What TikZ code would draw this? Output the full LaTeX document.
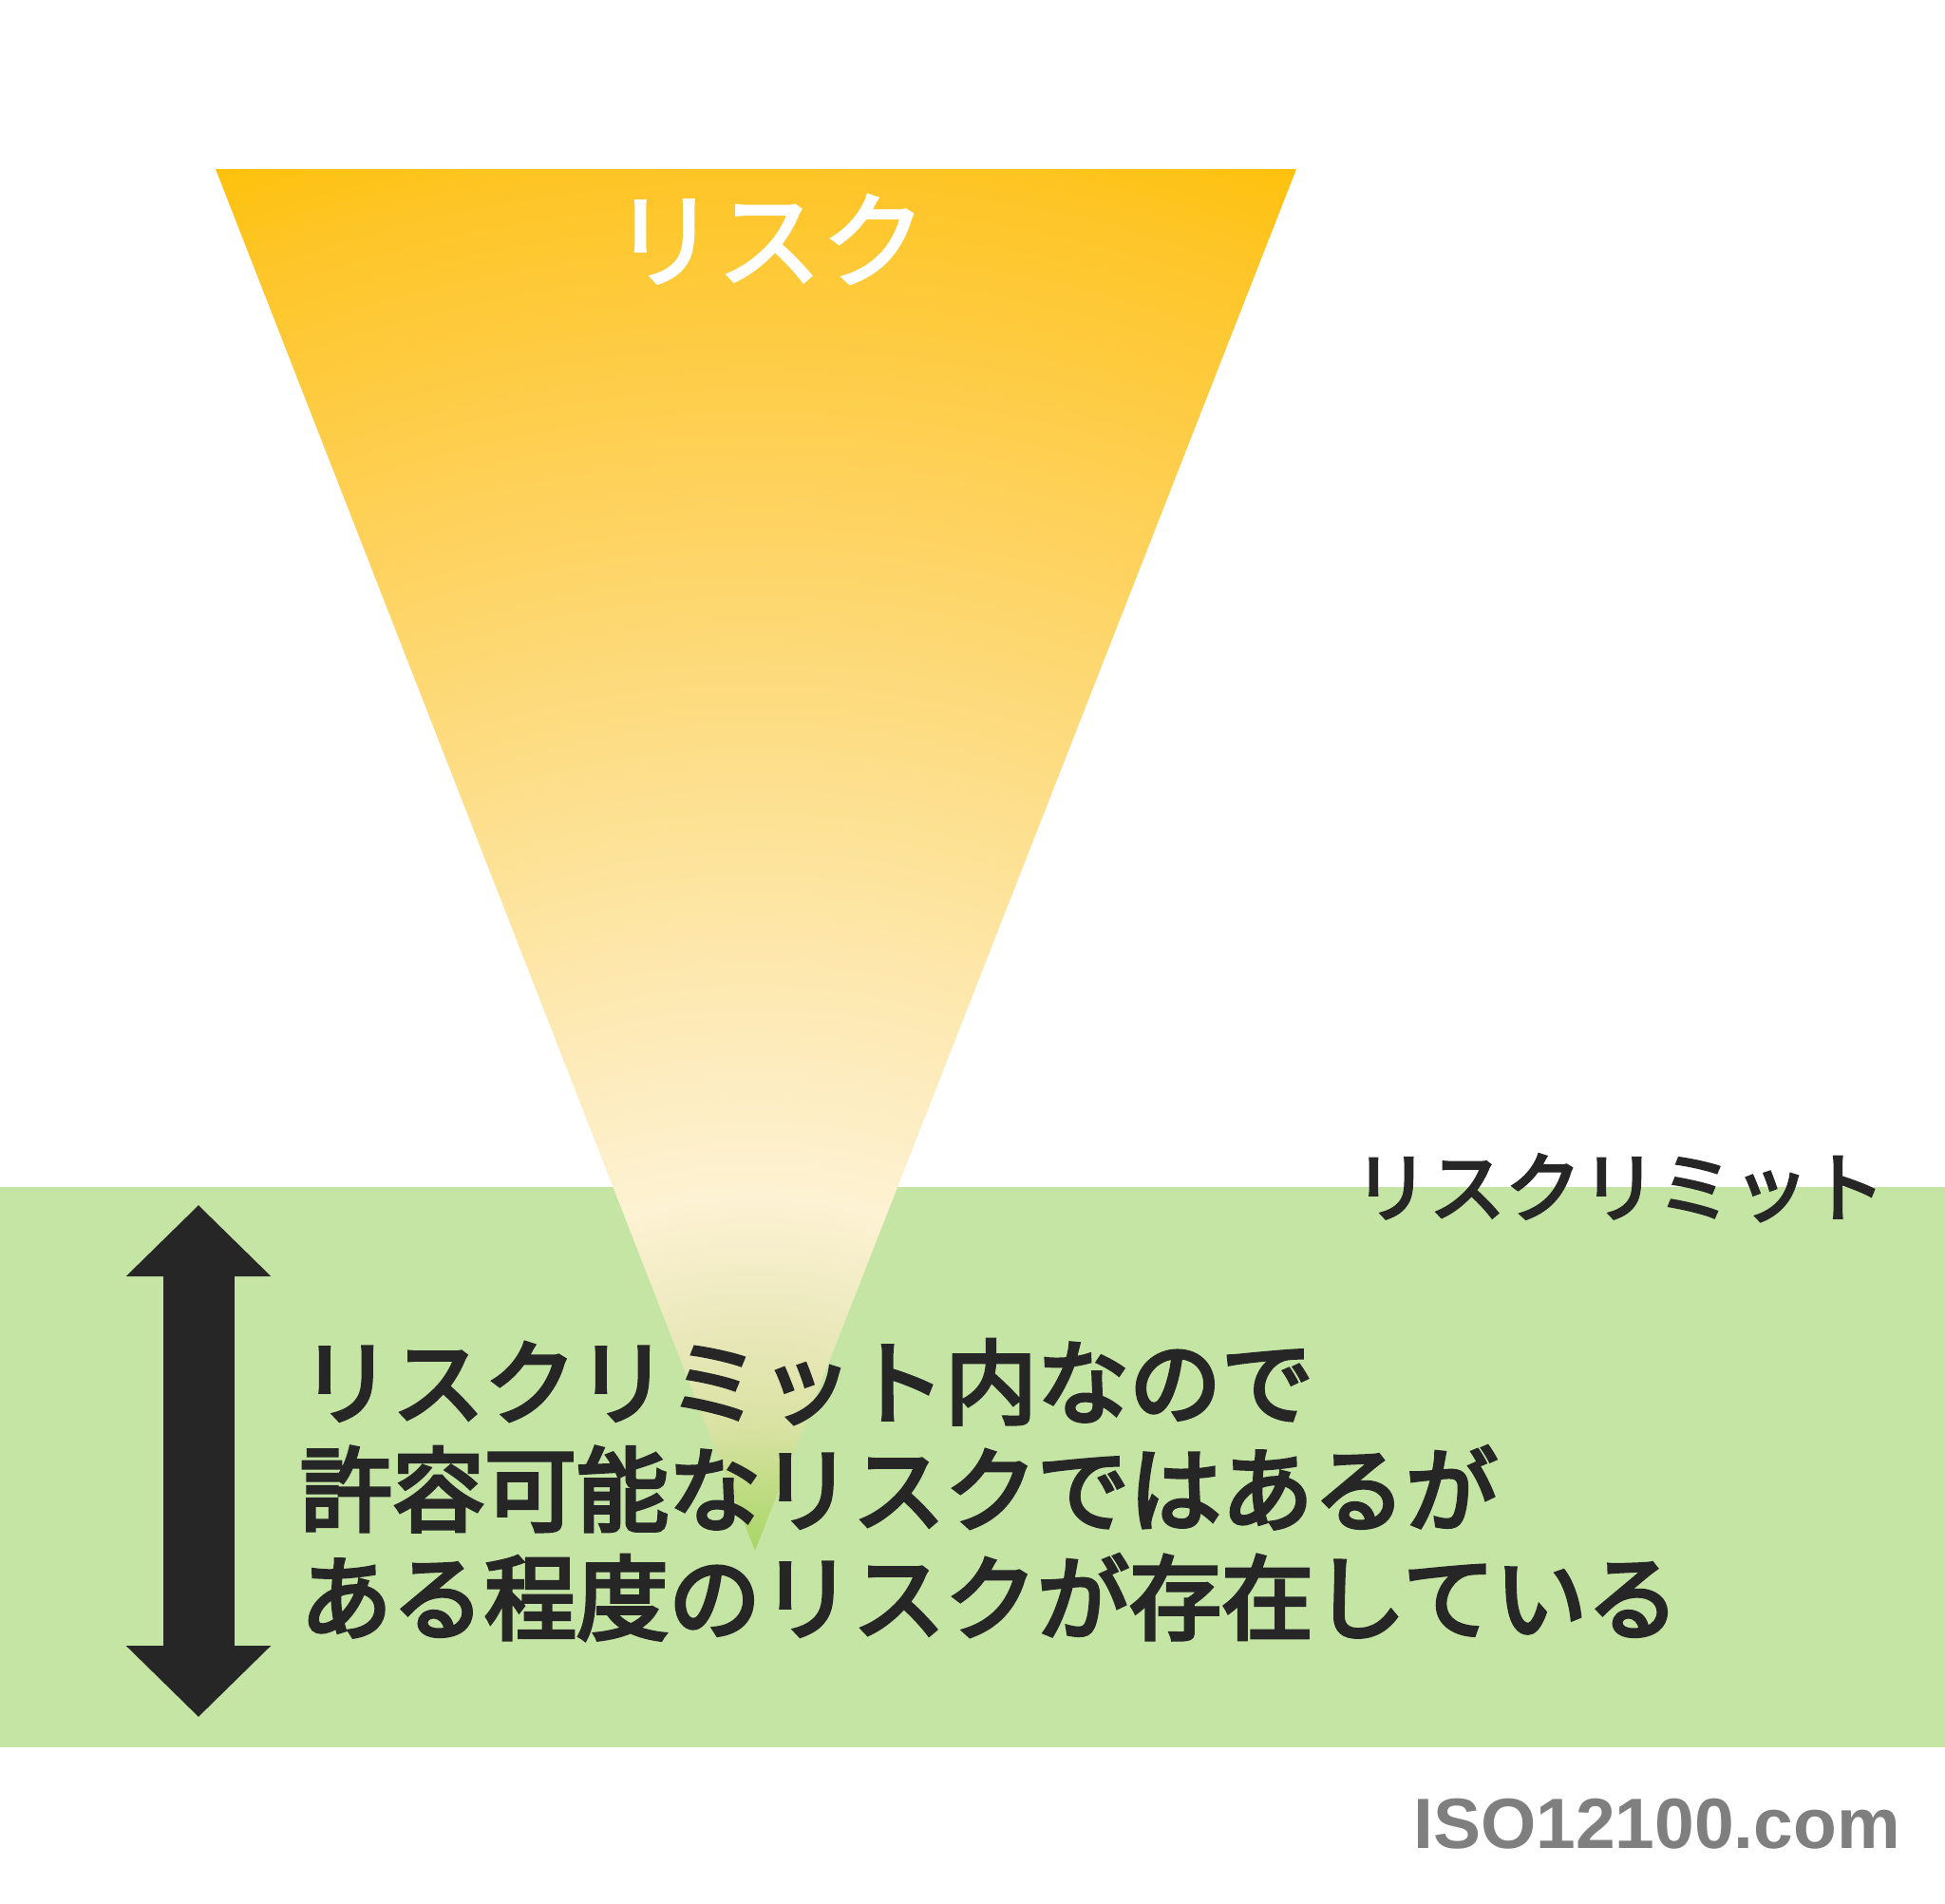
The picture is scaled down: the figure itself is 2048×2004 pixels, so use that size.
\documentclass[tikz,border=0pt]{standalone}
\usepackage{fontspec}
\usetikzlibrary{arrows.meta}
\setmainfont{Liberation Sans}
\newfontfamily\jpfont{Noto Sans CJK JP}[FakeBold=4]
\newfontfamily\jplabel{Noto Sans CJK JP}[FakeBold=3.5]
\newfontfamily\jptitle{Noto Sans CJK JP}[FakeBold=2.5]
\definecolor{bandgreen}{HTML}{C5E5A5}
\definecolor{inkdark}{HTML}{262626}
\definecolor{sitegray}{HTML}{7F7F7F}
\definecolor{sA}{HTML}{A7D665}
\definecolor{sB}{HTML}{D9E2A3}
\definecolor{sC}{HTML}{EEEAC0}
\definecolor{sD}{HTML}{FDF2D3}
\definecolor{sE}{HTML}{FDEBBB}
\definecolor{sF}{HTML}{FDE39B}
\definecolor{sG}{HTML}{FDDA7A}
\definecolor{sH}{HTML}{FED15A}
\definecolor{sI}{HTML}{FECA3A}
\definecolor{sJ}{HTML}{FEC526}
\definecolor{sK}{HTML}{FEC10A}
\pgfdeclareradialshading{riskshade}{\pgfpoint{0pt}{0pt}}{%
color(0pt)=(sA); color(33pt)=(sA); color(100pt)=(sB); color(165pt)=(sC);
color(220pt)=(sD); color(300pt)=(sE); color(400pt)=(sF); color(500pt)=(sG);
color(600pt)=(sH); color(700pt)=(sI); color(761pt)=(sJ); color(815pt)=(sK)}
\begin{document}
\begin{tikzpicture}[x=0.5pt,y=-0.5pt,
  jptext/.style={inner sep=0pt, outer sep=0pt, text=inkdark,
    font=\jpfont\fontsize{48.5}{58}\selectfont},
  titletext/.style={inner sep=0pt, outer sep=0pt, text=white,
    font=\jptitle\fontsize{55}{66}\selectfont},
  limittext/.style={inner sep=0pt, outer sep=0pt, text=inkdark,
    font=\jplabel\fontsize{40}{48}\selectfont},
  sitetext/.style={inner sep=0pt, outer sep=0pt, text=sitegray,
    font=\bfseries\fontsize{37.5}{45}\selectfont},
  riskarrow/.style={draw=inkdark, line width=37.5pt,
    {Triangle[width=74pt,length=37.5pt]}-{Triangle[width=74pt,length=37.5pt]}}
]
\useasboundingbox (0,0) rectangle (2048,2004);
\fill[white] (0,0) rectangle (2048,2004);
% green band
\fill[bandgreen] (0,1250) rectangle (2048,1840);
% risk triangle
\begin{scope}
  \clip (227,178) -- (1365,178) -- (795,1633) -- cycle;
  \node[inner sep=0pt, outer sep=0pt] (shade) at (795,1700) {\pgfuseshading{riskshade}};
\end{scope}
\node[titletext, anchor=base] (title) at (810,294) {リスク};
% limit label
\node[limittext, anchor=base west] (limitlabel) at (1425,1280) {リスクリミット};
% double arrow
\coordinate (atop) at (209,1269);
\coordinate (abot) at (209,1808);
\draw[riskarrow] (atop) -- (abot);
% explanation
\node[jptext, anchor=base west] (line1) at (316,1492) {リスクリミット内なので};
\node[jptext, anchor=base west] (line2) at (316,1605) {許容可能なリスクではあるが};
\node[jptext, anchor=base west] (line3) at (316,1719) {ある程度のリスクが存在している};
% site
\node[sitetext, anchor=base east] (site) at (2001,1946) {ISO12100.com};
\end{tikzpicture}
\end{document}
